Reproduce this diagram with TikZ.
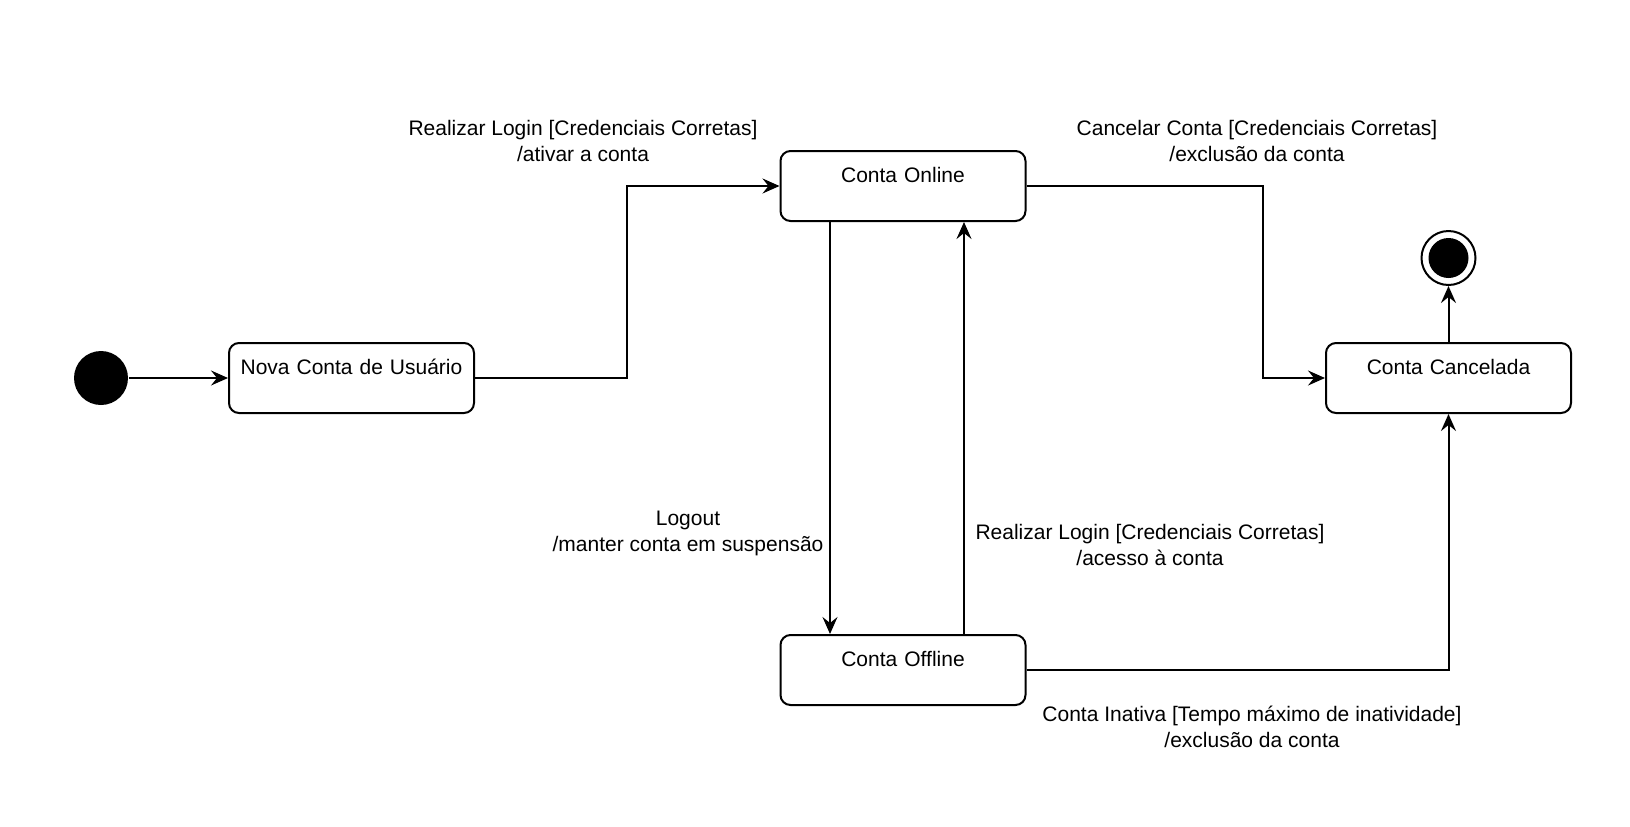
\documentclass[tikz,border=0pt]{standalone}
\usepackage{fontspec}
\setmainfont{Liberation Sans}
\usetikzlibrary{arrows.meta}
\tikzstyle{estado}=[draw, rounded corners=5pt, inner sep=0pt,
minimum width=122.5pt, minimum height=35pt, text width=122.5pt, align=center,
text height=15.8pt, text depth=19.2pt]
\tikzstyle{rotulo}=[align=center, inner sep=0pt]

\begin{document}
\begin{tikzpicture}
	[x=0.5pt, y=-0.5pt, line width=1pt, >={Stealth[length=8.5pt,width=7.5pt,inset=3pt]},
	font=\fontsize{10.5pt}{13pt}\selectfont]
	\useasboundingbox (0,0) rectangle (1630,826);
	\node[circle, fill=black, inner sep=0pt, minimum size=27pt] (0) at (101,378) {};
	\node[estado] (1) at (351.5,378) {Nova Conta de Usuário};
	\node[estado] (2) at (903,186) {Conta Online};
	\node[estado] (3) at (903,670) {Conta Offline};
	\node[estado] (4) at (1448.5,378) {Conta Cancelada};
	\node[circle, draw, inner sep=0pt, minimum size=27pt] (5) at (1448.5,258) {};
	\fill (5.center) circle (10pt);

	\draw[->] (0) -- (1);
	\draw[->] (1) -- (627,378) |- (2);
	\draw[->] (2) -- (1263,186) |- (4);
	\draw[->] ([xshift=-36.5pt]2.south) -- ([xshift=-36.5pt]3.north);
	\draw[->] ([xshift=30.5pt]3.north) -- ([xshift=30.5pt]2.south);
	\draw[->] (3) -| (4);
	\draw[->] (4) -- (5);

	\node[rotulo] (6) at (583,141) {Realizar Login [Credenciais Corretas]\\/ativar a conta};
	\node[rotulo] (7) at (1257,141) {Cancelar Conta [Credenciais Corretas]\\/exclusão da conta};
	\node[rotulo] (8) at (688,533) {Logout\\/manter conta em suspensão};
	\node[rotulo] (9) at (1150,545) {Realizar Login [Credenciais Corretas]\\/acesso à conta};
	\node[rotulo] (10) at (1252,727) {Conta Inativa [Tempo máximo de inatividade]\\/exclusão da conta};
\end{tikzpicture}
\end{document}
